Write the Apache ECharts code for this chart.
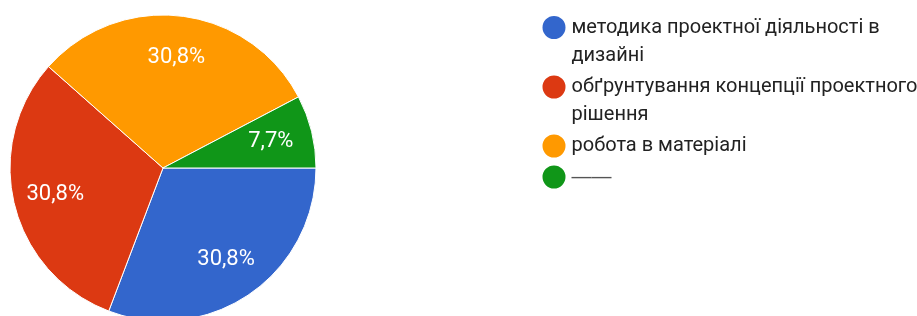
<!DOCTYPE html>
<html>
<head>
<meta charset="utf-8">
<script src="https://cdn.jsdelivr.net/npm/echarts@6/dist/echarts.min.js"></script>
<style>
html,body{margin:0;padding:0;background:#fff;}
#chart{width:917px;height:316px;}
</style>
</head>
<body>
<div id="chart"></div>
<script>
const categories = ['методика проектної діяльності в дизайні', 'обґрунтування концепції проектного рішення', 'робота в матеріалі', '——'];
const legendLabels = ['методика проектної діяльності в\nдизайні', 'обґрунтування концепції проектного\nрішення', 'робота в матеріалі', '——'];
const values = [4, 4, 4, 1];
const colors = ['#3366CC', '#DC3912', '#FF9900', '#109618'];

const FONT = 'Roboto, Arial, sans-serif';
const LH = 28;
const ICON = 25;
const legendCenters = [27.5, 87, 146, 177];

const pieData = categories.map((c, i) => ({ name: c, value: values[i], itemStyle: { color: colors[i] } }));

const legends = categories.map((c, i) => {
  const lines = legendLabels[i].split('\n').length;
  // a leading blank line keeps the icon level with the first text line
  const shown = lines > 1 ? ' \n' + legendLabels[i] : legendLabels[i];
  const isDash = i === 3;
  return {
    show: true,
    orient: 'vertical',
    left: 540.5,
    top: lines > 1 ? legendCenters[i] - 1.5 * LH : legendCenters[i] - LH / 2,
    padding: 0,
    icon: 'circle',
    itemWidth: ICON,
    itemHeight: ICON,
    selectedMode: false,
    data: [c],
    formatter: () => shown,
    textStyle: {
      color: isDash ? '#555' : '#222',
      fontFamily: isDash ? '"Liberation Sans", Arial, sans-serif' : FONT,
      fontSize: 20,
      lineHeight: LH
    }
  };
});

const chart = echarts.init(document.getElementById('chart'), null, { renderer: 'canvas' });
chart.setOption({
  animation: false,
  backgroundColor: '#fff',
  legend: legends,
  series: [
    {
      type: 'pie',
      center: [163, 168],
      radius: 153,
      startAngle: 0,
      clockwise: true,
      silent: true,
      label: { show: false },
      labelLine: { show: false },
      itemStyle: { borderColor: '#fff', borderWidth: 1 },
      data: pieData
    },
    {
      type: 'pie',
      center: [163, 168],
      radius: [63, 153],
      startAngle: 0,
      clockwise: true,
      silent: true,
      itemStyle: { color: 'transparent', borderWidth: 0 },
      label: {
        show: true,
        position: 'inside',
        color: '#fff',
        fontFamily: FONT,
        fontSize: 22,
        formatter: p => p.percent.toFixed(1).replace('.', ',') + '%'
      },
      labelLine: { show: false },
      data: categories.map((c, i) => ({ name: c, value: values[i] }))
    }
  ]
});
</script>
</body>
</html>
